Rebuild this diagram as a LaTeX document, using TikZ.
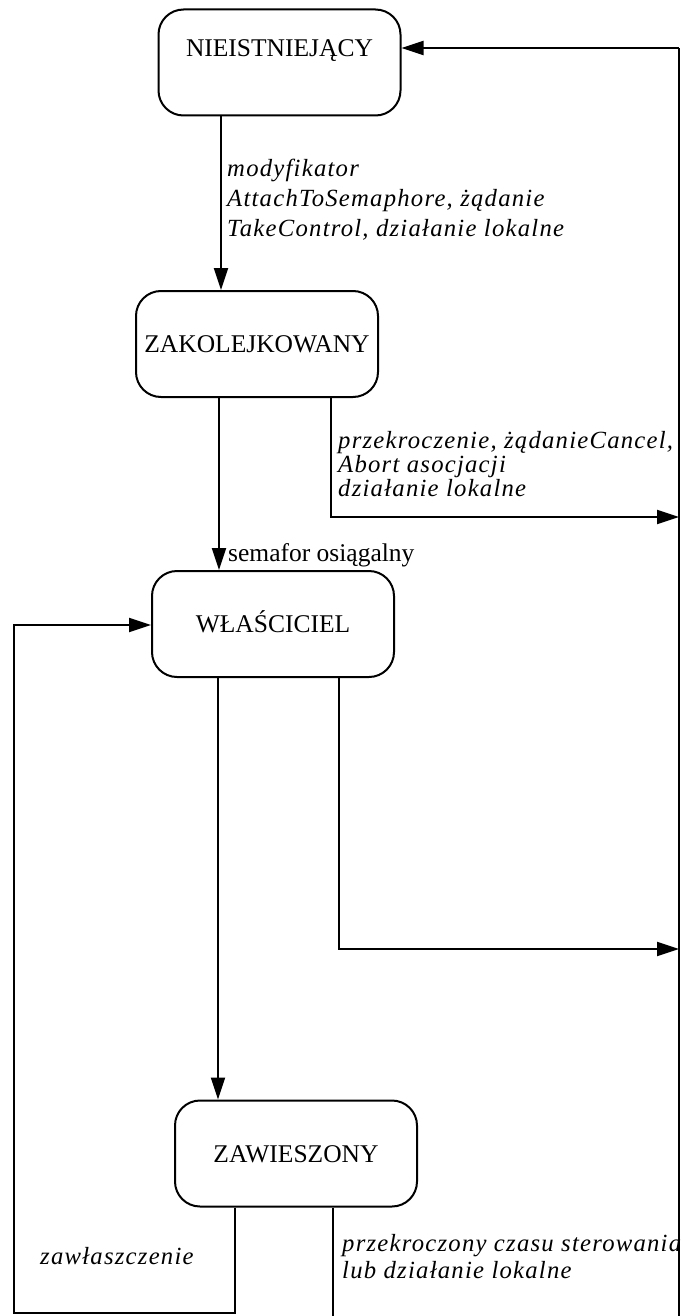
\documentclass[tikz,border=0pt]{standalone}
\usepackage{fontspec}
\setmainfont{Liberation Serif}
\newfontfamily\labit[LetterSpace=5]{Liberation Serif Italic}
\usetikzlibrary{arrows.meta}

\begin{document}
\begin{tikzpicture}[x=1pt,y=-1pt,
  state/.style={draw, rounded corners=25pt, line width=2pt,
    minimum width=242pt, minimum height=106pt, inner sep=0pt,
    font=\fontsize{25.5}{30}\selectfont, text height=17pt, text depth=0pt},
  wire/.style={line width=2pt},
  arr/.style={wire, -{Triangle[length=22pt,width=14pt]}},
  lab/.style={anchor=west, align=left, inner sep=0pt},
  upright/.style={anchor=west, inner sep=0pt, font=\fontsize{25.5}{30}\selectfont},
]
\useasboundingbox (0,0) rectangle (682,1316);

% states
\node[state, text depth=29pt] (n1) at (279.5,62.5) {NIEISTNIEJĄCY};
\node[state] (n2) at (257,344) {ZAKOLEJKOWANY};
\node[state] (n3) at (273,624) {WŁAŚCICIEL};
\node[state] (n4) at (296,1153.5) {ZAWIESZONY};

% routing points
\coordinate (rtop) at (679,48);
\coordinate (rbot) at (679,1316);
\coordinate (xa) at (221,0);
\coordinate (xb) at (219,0);
\coordinate (xc) at (331,517);
\coordinate (xd) at (218,0);
\coordinate (xe) at (339,949);
\coordinate (xf) at (235,1313);
\coordinate (xg) at (14,625);
\coordinate (xh) at (333,1316);

% return bus on the right
\draw[wire] (rbot) -- (rtop);
\draw[arr] (rtop) -- (n1.east |- rtop);

% transitions
\draw[arr] (n1.south -| xa) -- (n2.north -| xa);
\draw[arr] (n2.south -| xb) -- (n3.north -| xb);
\draw[arr] (n2.south -| xc) -- (xc) -- (xc -| rtop);
\draw[arr] (n3.south -| xd) -- (n4.north -| xd);
\draw[arr] (n3.south -| xe) -- (xe) -- (xe -| rtop);
\draw[arr] (n4.south -| xf) -- (xf) -- (xf -| xg) -- (xg) -- (n3.west |- xg);
\draw[wire] (n4.south -| xh) -- (xh);

% labels
\node[lab, font=\labit\fontsize{24.7}{30}\selectfont] (l1) at (227,200)
  {modyfikator\\AttachToSemaphore, żądanie\\TakeControl, działanie lokalne};
\node[lab, font=\labit\fontsize{24.7}{24}\selectfont] (l2) at (338,464)
  {przekroczenie, żądanieCancel,\\Abort asocjacji\\działanie lokalne};
\node[upright] (l3) at (228,555) {semafor osiągalny};
\node[lab, font=\labit\fontsize{24.7}{27}\selectfont] (l4) at (40,1256) {zawłaszczenie};
\node[lab, font=\labit\fontsize{24.7}{27}\selectfont] (l5) at (342,1257)
  {przekroczony czasu sterowania\\lub działanie lokalne};
\end{tikzpicture}
\end{document}
